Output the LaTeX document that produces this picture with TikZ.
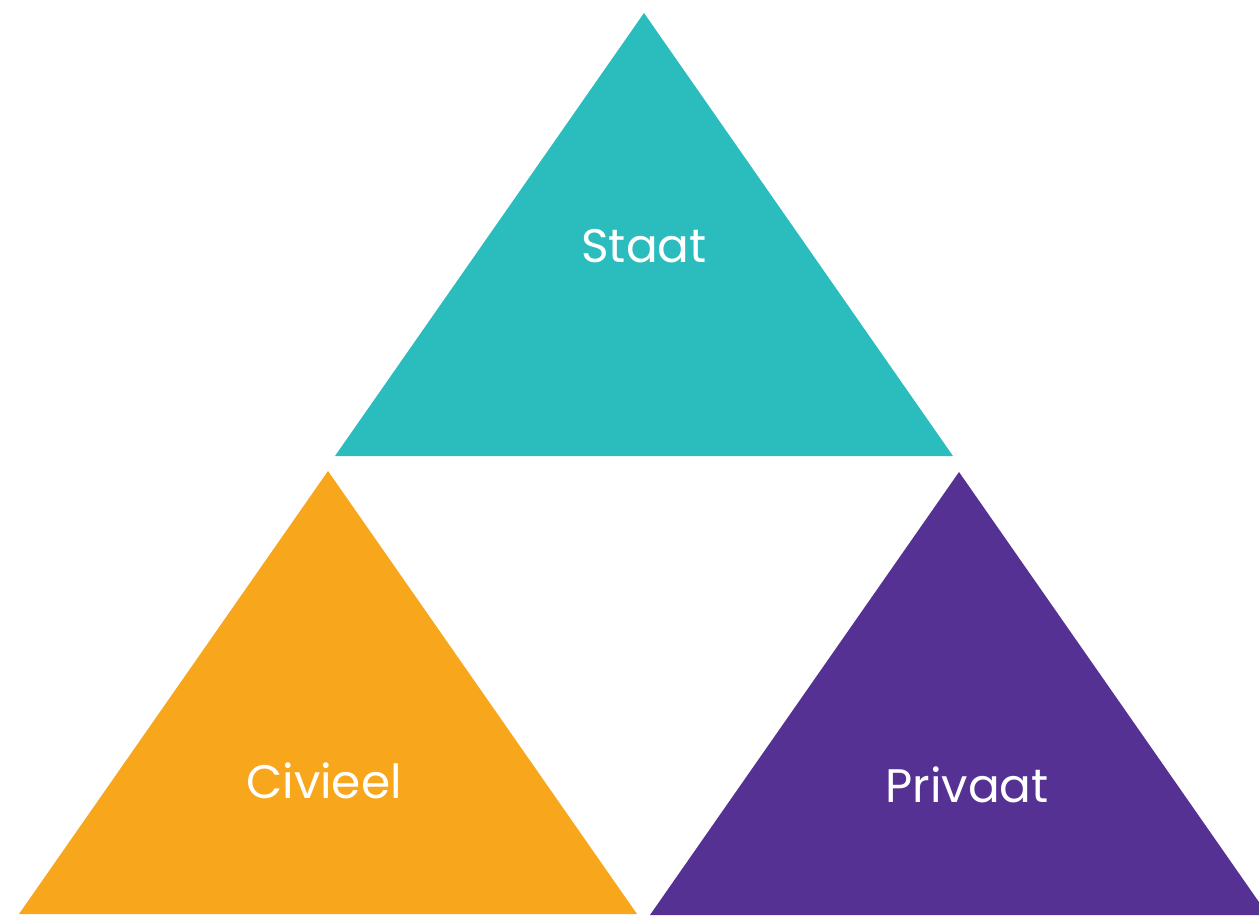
\documentclass[tikz,border=0pt]{standalone}
\usepackage{fontspec}
\setmainfont{Poppins}
\definecolor{teal}{HTML}{2BBDBE}
\definecolor{orangeT}{HTML}{F8A61C}
\definecolor{purpleT}{HTML}{543192}
\begin{document}
\begin{tikzpicture}[x=1pt,y=-1pt,
  lbl/.style={text=white,font=\fontsize{47}{56}\selectfont,inner sep=0pt}]
\useasboundingbox (0,0) rectangle (1259,920);
\clip (0,0) rectangle (1259,920);
\fill[teal] (644,13) -- (953,456) -- (335,456) -- cycle;
\fill[orangeT] (328,471) -- (637,914) -- (19,914) -- cycle;
\fill[purpleT] (959,472) -- (1268,915) -- (650,915) -- cycle;
\node[lbl] (staat) at (644,246) {Staat};
\node[lbl] (civ) at (324,781) {Civieel};
\node[lbl] (priv) at (967,785) {Privaat};
\end{tikzpicture}
\end{document}
